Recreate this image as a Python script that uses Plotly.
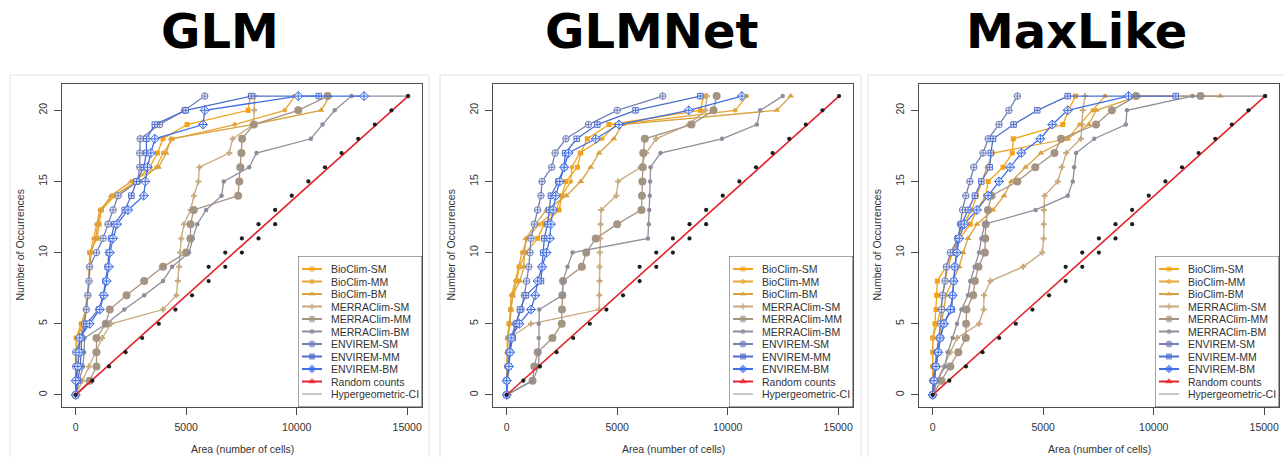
import plotly.graph_objects as go

# ---------------------------------------------------------------- data
PANELS = ["GLM", "GLMNet", "MaxLike"]
SERIES = ["BioClim-SM", "BioClim-MM", "BioClim-BM",
          "MERRAClim-SM", "MERRAClim-MM", "MERRAClim-BM",
          "ENVIREM-SM", "ENVIREM-MM", "ENVIREM-BM"]

# number of occurrences captured at each successive threshold
OCCURRENCES = [0, 1, 2, 3, 4, 5, 6, 7, 8, 9, 10,
               11, 12, 13, 14, 15, 16, 17, 18, 19, 20, 21]

# area (number of cells) needed to reach each occurrence count -- GLM
glm_bioclim_sm = [0, 0, 0, 0, 20, 250, 480, 560, 600, 620, 630, 970, 1060, 1160, 1770, 2670, 3350, 3700, 3950, 5040, 7800, 7900]
glm_bioclim_mm = [0, 0, 0, 30, 60, 330, 430, 520, 600, 620, 660, 810, 940, 1090, 1690, 2900, 3650, 3950, 4400, 7200, 9460, 9900]
glm_bioclim_bm = [0, 50, 100, 150, 200, 330, 480, 560, 600, 640, 700, 900, 1000, 1150, 1600, 2500, 3750, 4100, 4300, 8000, 11100, 11500]
glm_merraclim_sm = [0, 300, 600, 900, 1200, 1600, 3950, 4560, 4620, 4680, 4720, 4780, 4900, 5200, 5350, 5550, 5600, 6950, 7100, 8050, 8080, 8100]
glm_merraclim_mm = [0, 630, 940, 940, 940, 1360, 1540, 2300, 3100, 3950, 5000, 5190, 5200, 5340, 7350, 7400, 7450, 7500, 7530, 8060, 10070, 11400]
glm_merraclim_bm = [0, 180, 330, 380, 400, 1390, 2200, 3100, 3950, 4360, 5130, 5300, 5500, 5900, 6600, 6700, 7850, 8180, 10640, 11170, 11720, 12480]
glm_envirem_sm = [0, 0, 0, 0, 250, 400, 480, 550, 600, 630, 940, 1240, 1460, 1690, 1920, 2800, 2900, 2900, 2920, 3800, 4930, 5840]
glm_envirem_mm = [0, 100, 200, 250, 260, 480, 1050, 1250, 1350, 1450, 1500, 1600, 1750, 2220, 2520, 2750, 3080, 3200, 3200, 3580, 4980, 7950]
glm_envirem_bm = [0, 0, 100, 150, 180, 630, 1090, 1270, 1400, 1500, 1540, 1690, 1870, 2370, 3080, 3150, 3250, 3400, 3580, 5760, 5840, 10070]
glm_tails = {"MERRAClim-BM": [15040], "ENVIREM-MM": [11000], "ENVIREM-BM": [13050]}

# GLMNet
glmnet_bioclim_sm = [0, 0, 20, 40, 50, 100, 180, 270, 450, 570, 870, 1400, 1700, 2370, 2500, 2680, 3200, 3350, 3650, 4630, 8760, 8910]
glmnet_bioclim_mm = [0, 0, 0, 20, 30, 120, 160, 200, 390, 540, 690, 950, 1470, 2220, 2500, 2900, 2950, 3300, 4330, 4930, 10340, 10870]
glmnet_bioclim_bm = [0, 0, 20, 30, 50, 150, 200, 270, 600, 780, 800, 870, 1300, 1800, 2700, 3350, 3800, 4180, 4850, 5230, 12220, 12850]
glmnet_merraclim_sm = [0, 50, 120, 120, 120, 1100, 4180, 4190, 4200, 4200, 4210, 4230, 4250, 4280, 4960, 5040, 6060, 6310, 6760, 8240, 8990, 9060]
glmnet_merraclim_mm = [0, 1170, 1250, 1400, 2070, 2490, 2500, 2520, 2550, 3400, 3600, 4030, 5000, 6100, 6120, 6140, 6160, 6180, 6250, 8360, 9360, 9500]
glmnet_merraclim_bm = [0, 1170, 1450, 1450, 1450, 1450, 1470, 2520, 2540, 2750, 2980, 6390, 6430, 6450, 6470, 6490, 6510, 6960, 9740, 11320, 11470, 12490]
glmnet_envirem_sm = [0, 0, 50, 100, 200, 400, 650, 800, 900, 1000, 1050, 1100, 1250, 1400, 1550, 1600, 2040, 2190, 2680, 3700, 5000, 7060]
glmnet_envirem_mm = [0, 0, 100, 150, 270, 450, 600, 870, 1550, 1600, 1650, 1700, 1850, 1920, 2000, 2340, 2600, 2650, 3170, 4100, 5830, 8760]
glmnet_envirem_bm = [0, 0, 100, 150, 200, 570, 1100, 1290, 1400, 1600, 1800, 1950, 2000, 2100, 2220, 2400, 2600, 2800, 4030, 5080, 8240, 10640]
glmnet_tails = {}

# MaxLike
maxlike_bioclim_sm = [0, 0, 0, 0, 0, 100, 150, 180, 210, 600, 900, 1230, 1700, 2000, 2400, 2510, 3180, 3600, 3650, 5890, 6150, 6460]
maxlike_bioclim_mm = [0, 0, 0, 0, 0, 200, 350, 450, 550, 700, 900, 1100, 1400, 1760, 2000, 2210, 2450, 2730, 6110, 6640, 7240, 7800]
maxlike_bioclim_bm = [0, 50, 100, 200, 300, 400, 500, 600, 900, 1200, 1380, 1600, 2000, 2730, 3230, 3560, 4200, 4900, 6110, 7060, 7400, 9300]
maxlike_merraclim_sm = [0, 200, 500, 800, 1100, 2100, 2310, 2320, 2610, 4090, 4960, 5020, 5025, 5030, 5060, 5660, 5840, 6040, 6710, 6760, 6790, 6890]
maxlike_merraclim_mm = [0, 400, 800, 1160, 1500, 1510, 1530, 1830, 1910, 2070, 2360, 2380, 2400, 2500, 2660, 3830, 4640, 5510, 5810, 7390, 8110, 9200]
maxlike_merraclim_bm = [0, 200, 560, 680, 900, 1100, 1300, 1600, 1700, 1900, 2100, 2200, 2360, 4660, 6110, 6340, 6400, 6490, 7310, 8740, 8790, 11750]
maxlike_envirem_sm = [0, 0, 100, 180, 290, 350, 400, 450, 560, 620, 800, 1160, 1250, 1350, 1500, 1680, 1860, 2280, 2510, 3000, 3450, 3830]
maxlike_envirem_mm = [0, 60, 150, 250, 350, 500, 860, 900, 950, 1000, 1050, 1130, 1300, 1600, 1910, 2200, 2580, 2630, 2730, 3660, 4730, 6110]
maxlike_envirem_bm = [0, 60, 150, 250, 330, 510, 800, 900, 950, 1000, 1100, 1200, 1430, 2000, 2510, 3000, 3500, 4010, 4870, 5410, 6110, 8860]
maxlike_tails = {"BioClim-BM": [13020], "MERRAClim-MM": [12120],
                 "MERRAClim-BM": [15040], "ENVIREM-MM": [11000]}

# random expectation and hypergeometric confidence bounds
random_area = [0, 15040]
random_occ = [0, 21]
ci_area = [0, 752, 1504, 2256, 3008, 3760, 4512, 5264, 6016, 6016, 6768, 6768, 7520,
           7520, 8272, 8272, 9024, 9024, 9776, 10528, 11280, 12032, 12784, 13536, 14288, 15040]
ci_occ = [0, 1, 2, 3, 4, 5, 6, 7, 8, 9, 9, 10, 10,
          11, 11, 12, 12, 13, 14, 15, 16, 17, 18, 19, 20, 21]

X_TICKS = [0, 5000, 10000, 15000]
X_LABELS = ["0", "5000", "10000", "15000"]
Y_TICKS = [0, 5, 10, 15, 20]
Y_LABELS = ["0", "5", "10", "15", "20"]

PANEL_SERIES = [
    [glm_bioclim_sm, glm_bioclim_mm, glm_bioclim_bm, glm_merraclim_sm, glm_merraclim_mm,
     glm_merraclim_bm, glm_envirem_sm, glm_envirem_mm, glm_envirem_bm],
    [glmnet_bioclim_sm, glmnet_bioclim_mm, glmnet_bioclim_bm, glmnet_merraclim_sm, glmnet_merraclim_mm,
     glmnet_merraclim_bm, glmnet_envirem_sm, glmnet_envirem_mm, glmnet_envirem_bm],
    [maxlike_bioclim_sm, maxlike_bioclim_mm, maxlike_bioclim_bm, maxlike_merraclim_sm, maxlike_merraclim_mm,
     maxlike_merraclim_bm, maxlike_envirem_sm, maxlike_envirem_mm, maxlike_envirem_bm],
]
PANEL_TAILS = [glm_tails, glmnet_tails, maxlike_tails]

# ---------------------------------------------------------------- styling
COLORS = {
    "BioClim-SM": "#f3a214", "BioClim-MM": "#eba535", "BioClim-BM": "#d8a140",
    "MERRAClim-SM": "#c7a97c", "MERRAClim-MM": "#a69483", "MERRAClim-BM": "#8f8d9c",
    "ENVIREM-SM": "#7280b6", "ENVIREM-MM": "#4e6dcc", "ENVIREM-BM": "#3f6fe6",
}
SYMBOLS = {
    "BioClim-SM": "square", "BioClim-MM": "circle", "BioClim-BM": "triangle-up",
    "MERRAClim-SM": "cross", "MERRAClim-MM": "circle", "MERRAClim-BM": "circle",
    "ENVIREM-SM": "circle-cross", "ENVIREM-MM": "square-cross", "ENVIREM-BM": "diamond-cross",
}
SIZES = {
    "BioClim-SM": 5, "BioClim-MM": 4.5, "BioClim-BM": 6,
    "MERRAClim-SM": 5, "MERRAClim-MM": 8, "MERRAClim-BM": 4.5,
    "ENVIREM-SM": 6.5, "ENVIREM-MM": 5.5, "ENVIREM-BM": 7,
}
RED = "#e3232b"
CI_GREY = "#c8c8c8"
FRAME_GREY = "#4d4d4d"
TEXT = "#333333"
FONT = "Liberation Sans"

W, H = 1284, 457
PLOT_LEFT = [62, 493, 919]
PLOT_W = 360
PLOT_TOP, PLOT_BOTTOM = 84, 407
CARD = [(10, 429), (440, 861), (868, 1300)]
CARD_TOP = 75
TITLE_X = [220, 651, 1076]
LEG_W, LEG_TOP = 124, 256
LEG_H = PLOT_BOTTOM - LEG_TOP


def fx(px):
    return px / W


def fy(py):
    return 1 - py / H


fig = go.Figure()
layout = dict(width=W, height=H, margin=dict(l=0, r=0, t=0, b=0),
              paper_bgcolor="white", plot_bgcolor="white", showlegend=False)
shapes, annotations = [], []

legend_names = SERIES + ["Random counts", "Hypergeometric-CI"]
legend_colors = [COLORS[s] for s in SERIES] + [RED, CI_GREY]
legend_symbols = ["square", "circle", "triangle-up", "cross", "circle", "circle",
                  "circle", "square", "diamond", "triangle-up", "circle"]
legend_sizes = [5, 5, 6, 5, 7, 5, 7, 6, 7, 7, 0]

for i, title in enumerate(PANELS):
    n = i + 1
    sx = "" if n == 1 else str(n)
    xa, ya = "x" + sx, "y" + sx
    left = PLOT_LEFT[i]
    right = left + PLOT_W

    # card outline around each panel
    shapes.append(dict(type="rect", xref="paper", yref="paper", layer="below",
                       x0=fx(CARD[i][0]), x1=fx(CARD[i][1]), y0=-0.2, y1=fy(CARD_TOP),
                       line=dict(color="#e2e2e2", width=1), fillcolor="rgba(0,0,0,0)"))

    axis_common = dict(showline=True, mirror=True, linecolor=FRAME_GREY, linewidth=1,
                       ticks="outside", ticklen=7, tickwidth=1, tickcolor=FRAME_GREY,
                       showgrid=False, zeroline=False, fixedrange=True,
                       tickfont=dict(family=FONT, size=10.5, color=TEXT))
    layout["xaxis" + sx] = dict(axis_common, domain=[fx(left), fx(right)], anchor=ya,
                                range=[-620, 15670], tickvals=X_TICKS, ticktext=X_LABELS,
                                ticklabelstandoff=3)
    layout["yaxis" + sx] = dict(axis_common, domain=[fy(PLOT_BOTTOM), fy(PLOT_TOP)], anchor=xa,
                                range=[-0.85, 21.85], tickvals=Y_TICKS, ticktext=Y_LABELS,
                                tickangle=-90, ticklabelstandoff=3)

    # model curves
    for name, area in zip(SERIES, PANEL_SERIES[i]):
        extra = PANEL_TAILS[i].get(name, [])
        xs = area + extra
        ys = OCCURRENCES[:len(area)] + [OCCURRENCES[-1]] * len(extra)
        envirem = name.startswith("ENVIREM")
        fig.add_trace(go.Scatter(
            x=xs, y=ys, mode="lines+markers", name=name, xaxis=xa, yaxis=ya,
            line=dict(color=COLORS[name], width=1.3),
            marker=dict(symbol=SYMBOLS[name], size=SIZES[name],
                        color="rgba(235,238,250,0.9)" if envirem else COLORS[name],
                        line=dict(color=COLORS[name], width=1.0 if envirem else 0)),
        ))

    fig.add_trace(go.Scatter(x=random_area, y=random_occ, mode="lines", name="Random counts",
                             xaxis=xa, yaxis=ya, line=dict(color=RED, width=1.6)))
    fig.add_trace(go.Scatter(x=ci_area, y=ci_occ, mode="markers", name="Hypergeometric-CI",
                             xaxis=xa, yaxis=ya, marker=dict(color="#1e1e1e", size=4.2)))

    # panel title and axis titles
    annotations.append(dict(text="<b>%s</b>" % title, xref="paper", yref="paper",
                            x=fx(TITLE_X[i]), y=fy(31), xanchor="center", yanchor="middle",
                            showarrow=False, font=dict(family="DejaVu Sans", size=48, color="black")))
    annotations.append(dict(text="Area (number of cells)", xref="paper", yref="paper",
                            x=fx((left + right) / 2), y=fy(449), xanchor="center", yanchor="middle",
                            showarrow=False, font=dict(family=FONT, size=10.5, color=TEXT)))
    annotations.append(dict(text="Number of Occurrences", xref="paper", yref="paper",
                            x=fx(left - 43), y=fy((PLOT_TOP + PLOT_BOTTOM) / 2),
                            xanchor="center", yanchor="middle", textangle=-90,
                            showarrow=False, font=dict(family=FONT, size=10.5, color=TEXT)))

    # legend box in the bottom-right corner, laid out in its own pixel-unit axes
    ln = n + 3
    lxa, lya = "x%d" % ln, "y%d" % ln
    layout["xaxis%d" % ln] = dict(domain=[fx(right - LEG_W), fx(right)], range=[0, LEG_W],
                                  visible=False, fixedrange=True, anchor=lya)
    layout["yaxis%d" % ln] = dict(domain=[fy(PLOT_BOTTOM), fy(LEG_TOP)], range=[LEG_H, 0],
                                  visible=False, fixedrange=True, anchor=lxa)
    shapes.append(dict(type="rect", xref=lxa, yref=lya, layer="below",
                       x0=0, x1=LEG_W, y0=0, y1=LEG_H,
                       line=dict(color=FRAME_GREY, width=1), fillcolor="white"))
    rows = [13 + 12.5 * k for k in range(len(legend_names))]
    for k, label in enumerate(legend_names):
        shapes.append(dict(type="line", xref=lxa, yref=lya, x0=4, x1=24, y0=rows[k], y1=rows[k],
                           line=dict(color=legend_colors[k], width=2)))
        annotations.append(dict(text=label, xref=lxa, yref=lya, x=31, y=rows[k],
                                xanchor="left", yanchor="middle", showarrow=False,
                                font=dict(family=FONT, size=10.5, color=TEXT)))
    fig.add_trace(go.Scatter(x=[14] * len(rows), y=rows, mode="markers", xaxis=lxa, yaxis=lya,
                             hoverinfo="skip",
                             marker=dict(symbol=legend_symbols, size=legend_sizes,
                                         color=legend_colors, line=dict(width=0))))

layout["shapes"] = shapes
layout["annotations"] = annotations
fig.update_layout(**layout)
fig.write_html("out.html")
